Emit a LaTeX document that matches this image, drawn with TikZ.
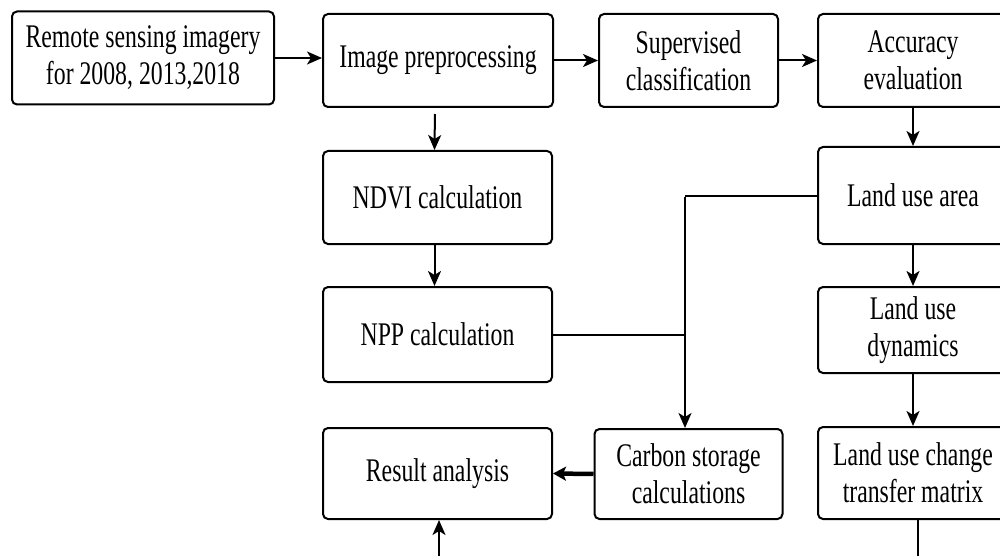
\documentclass[tikz,border=0pt]{standalone}
\usepackage{fontspec}
\setmainfont{Liberation Serif}[FakeStretch=0.72]
\usetikzlibrary{arrows.meta}
\begin{document}
\begin{tikzpicture}[x=1pt,y=-1pt,
  box/.style={draw, line width=2pt, rounded corners=5pt, align=center,
    inner sep=0pt, font=\fontsize{33pt}{37pt}\selectfont},
  flow/.style={line width=2pt, -{Stealth[length=15pt,width=13pt,inset=4pt]}},
  link/.style={line width=2pt},
  bold/.style={line width=4.5pt, -{Stealth[length=13pt,width=14pt,inset=3pt]}}]
\useasboundingbox (0,0) rectangle (1000,556);
\clip (0,0) rectangle (1000,556);
\fill[white] (0,0) rectangle (1000,556);

% top row
\node[box, minimum width=262pt, minimum height=93pt] (src) at (143,58)
  {\fontsize{33pt}{41pt}\selectfont Remote sensing imagery\\for 2008, 2013,2018};
\node[box, minimum width=230pt, minimum height=93pt] (pre) at (438,60.5) {Image preprocessing};
\node[box, minimum width=179pt, minimum height=93pt] (sup) at (688.5,60.5) {Supervised\\classification};
\node[box, minimum width=190pt, minimum height=93pt] (acc) at (913,60.5) {Accuracy\\evaluation};

% left column
\node[box, minimum width=229pt, minimum height=93pt] (ndvi) at (437.5,197.5) {NDVI calculation};
\node[box, minimum width=229pt, minimum height=95pt] (npp) at (437.5,334.5) {NPP calculation};
\node[box, minimum width=229pt, minimum height=91pt] (res) at (437.5,473.5) {Result analysis};

% right column
\node[box, minimum width=190pt, minimum height=97pt] (area) at (913,195.5) {Land use area};
\node[box, minimum width=190pt, minimum height=86pt] (dyn) at (913,330) {Land use\\dynamics};
\node[box, minimum width=190pt, minimum height=92pt] (mat) at (913,473) {Land use change\\transfer matrix};

% carbon storage
\node[box, minimum width=188pt, minimum height=90pt] (carb) at (688.5,474) {Carbon storage\\calculations};

% junction of the two inputs to carbon storage
\coordinate (j) at (685,197);

% connectors
\draw[flow] (src.east) -- (src.east -| pre.west);
\draw[flow] (pre.east) -- (sup.west);
\draw[flow] (sup.east) -- (acc.west);
\draw[flow, shorten <=6pt] ([xshift=-3pt]pre.south) -- ([xshift=-3pt]ndvi.north);
\draw[flow] ([xshift=-3pt]ndvi.south) -- ([xshift=-3pt]npp.north);
\draw[flow] (acc.south) -- (area.north);
\draw[flow] (area.south) -- (dyn.north);
\draw[flow] (dyn.south) -- (mat.north);
\draw[link] (area.west) -- (area.west -| j);
\draw[flow] (j) -- (j |- carb.north);
\draw[link] (npp.east) -- (npp.east -| j);
\draw[bold] (carb.west) -- (res.east);
\draw[flow] ([xshift=5pt]mat.south) -- ++(0,60) -| ([xshift=1.5pt]res.south);
\end{tikzpicture}
\end{document}
